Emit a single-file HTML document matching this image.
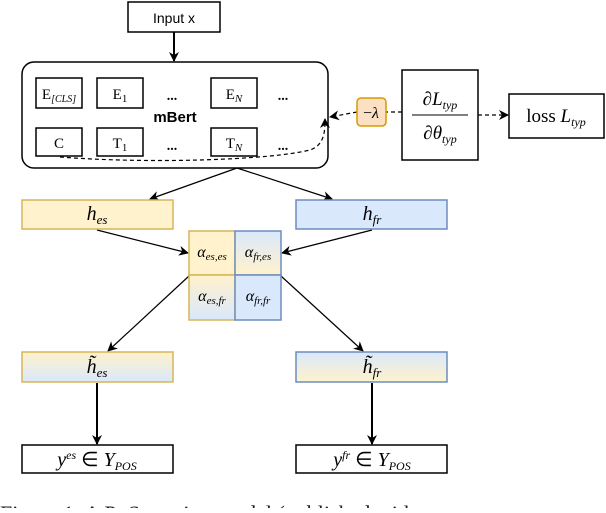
<!DOCTYPE html>
<html><head><meta charset="utf-8"><style>
body{margin:0;background:#fff;width:606px;height:508px;overflow:hidden}
text{font-family:"Liberation Serif",serif}
.s{font-family:"Liberation Sans",sans-serif}
</style></head><body>
<svg width="606" height="508" viewBox="0 0 606 508" xmlns="http://www.w3.org/2000/svg">
<defs>
<marker id="a" markerWidth="10" markerHeight="10" refX="9" refY="5" orient="auto" markerUnits="userSpaceOnUse"><path d="M0,0 L10,5 L0,10 L3,5 z" fill="#000"/></marker>
<linearGradient id="gy" x1="0" y1="0" x2="0" y2="1"><stop offset="0" stop-color="#fff2cc"/><stop offset="1" stop-color="#dae8fc"/></linearGradient>
<linearGradient id="gb" x1="0" y1="0" x2="0" y2="1"><stop offset="0" stop-color="#dae8fc"/><stop offset="1" stop-color="#fff2cc"/></linearGradient>
</defs>
<g stroke="#000" stroke-width="1.5" fill="none">
<rect x="128" y="2" width="92" height="30" fill="#fff"/>
<rect x="22" y="62" width="306" height="106" rx="12"/>
<rect x="36" y="78" width="46" height="30"/><rect x="97" y="78" width="46" height="30"/><rect x="211" y="78" width="46" height="30"/>
<rect x="36" y="128" width="46" height="28"/><rect x="97" y="128" width="46" height="28"/><rect x="211" y="128" width="46" height="28"/>
<rect x="402" y="70" width="76" height="90"/>
<rect x="509" y="94" width="95" height="44"/>
<rect x="22" y="445" width="151" height="28"/><rect x="296" y="445" width="151" height="28"/>
</g>
<line x1="174" y1="32" x2="174" y2="61" stroke="#000" stroke-width="2" marker-end="url(#a)"/>
<g stroke="#000" stroke-width="1.2" stroke-dasharray="4,3" fill="none">
<line x1="402" y1="112" x2="386" y2="112"/>
<line x1="357" y1="112" x2="330" y2="117" marker-end="url(#a)"/>
<line x1="478" y1="115" x2="508" y2="115" marker-end="url(#a)"/>
<path d="M60,157 C150,164 270,160 310,150 C325,145 325,130 325,119" marker-end="url(#a)"/>
</g>
<rect x="357" y="98" width="29" height="28" rx="4" fill="#fbe0c3" stroke="#d79b00" stroke-width="1.5"/>
<g stroke="#000" stroke-width="1.2" fill="none">
<line x1="237" y1="168" x2="150" y2="199" marker-end="url(#a)"/>
<line x1="237" y1="168" x2="332" y2="199" marker-end="url(#a)"/>
<line x1="97" y1="230" x2="188" y2="253" marker-end="url(#a)"/>
<line x1="372" y1="230" x2="282" y2="253" marker-end="url(#a)"/>
<line x1="189" y1="276" x2="108" y2="351" marker-end="url(#a)"/>
<line x1="281" y1="276" x2="363" y2="351" marker-end="url(#a)"/>
</g>
<g stroke="#000" stroke-width="2"><line x1="97" y1="383" x2="97" y2="444" marker-end="url(#a)"/><line x1="372" y1="383" x2="372" y2="444" marker-end="url(#a)"/></g>
<rect x="22" y="200" width="151" height="29" fill="#fff2cc" stroke="#d6b656" stroke-width="1.5"/>
<rect x="296" y="200" width="151" height="29" fill="#dae8fc" stroke="#6c8ebf" stroke-width="1.5"/>
<rect x="189" y="231" width="46" height="44" fill="#fff2cc" stroke="#d6b656" stroke-width="1.5"/>
<rect x="189" y="275" width="46" height="45" fill="url(#gy)" stroke="#d6b656" stroke-width="1.5"/>
<rect x="235" y="231" width="46" height="44" fill="url(#gb)" stroke="#6c8ebf" stroke-width="1.5"/>
<rect x="235" y="275" width="46" height="45" fill="#dae8fc" stroke="#6c8ebf" stroke-width="1.5"/>
<rect x="22" y="352" width="151" height="30" fill="url(#gy)" stroke="#d6b656" stroke-width="1.5"/>
<rect x="296" y="352" width="151" height="30" fill="url(#gb)" stroke="#6c8ebf" stroke-width="1.5"/>
<text x="174" y="23" class="s" font-size="14" text-anchor="middle">Input x</text>
<text x="175" y="122" class="s" font-size="15" font-weight="bold" text-anchor="middle">mBert</text>
<text x="59" y="99" font-size="15" text-anchor="middle">E<tspan font-size="10" font-style="italic" dy="3">[CLS]</tspan></text>
<text x="120" y="99" font-size="15" text-anchor="middle">E<tspan font-size="11" dy="3">1</tspan></text>
<text x="234" y="99" font-size="15" text-anchor="middle">E<tspan font-size="11" font-style="italic" dy="3">N</tspan></text>
<text x="59" y="148" font-size="15" text-anchor="middle">C</text>
<text x="120" y="148" font-size="15" text-anchor="middle">T<tspan font-size="11" dy="3">1</tspan></text>
<text x="234" y="148" font-size="15" text-anchor="middle">T<tspan font-size="11" font-style="italic" dy="3">N</tspan></text>
<g class="s" font-size="14" font-weight="bold" text-anchor="middle"><text x="172" y="100">...</text><text x="283" y="100">...</text><text x="172" y="150">...</text><text x="283" y="150">...</text></g>
<text x="371" y="118" font-size="16" text-anchor="middle">−<tspan font-style="italic">λ</tspan></text>
<text x="440" y="105" font-size="19" text-anchor="middle">∂<tspan font-style="italic">L</tspan><tspan font-size="12" font-style="italic" dy="4">typ</tspan></text>
<line x1="412" y1="115" x2="468" y2="115" stroke="#000" stroke-width="1"/>
<text x="440" y="139" font-size="19" text-anchor="middle">∂<tspan font-style="italic">θ</tspan><tspan font-size="12" font-style="italic" dy="4">typ</tspan></text>
<text x="556" y="122" font-size="19" text-anchor="middle">loss <tspan font-style="italic">L</tspan><tspan font-size="12" font-style="italic" dy="4">typ</tspan></text>
<g font-style="italic">
<text x="97" y="220" font-size="20" text-anchor="middle">h<tspan font-size="13" dy="4">es</tspan></text>
<text x="372" y="220" font-size="20" text-anchor="middle">h<tspan font-size="13" dy="4">fr</tspan></text>
<text x="97" y="373" font-size="20" text-anchor="middle">h̃<tspan font-size="13" dy="4">es</tspan></text>
<text x="372" y="373" font-size="20" text-anchor="middle">h̃<tspan font-size="13" dy="4">fr</tspan></text>
<text x="212" y="257" font-size="16" text-anchor="middle">α<tspan font-size="11" dy="3">es,es</tspan></text>
<text x="258" y="257" font-size="16" text-anchor="middle">α<tspan font-size="11" dy="3">fr,es</tspan></text>
<text x="212" y="301" font-size="16" text-anchor="middle">α<tspan font-size="11" dy="3">es,fr</tspan></text>
<text x="258" y="301" font-size="16" text-anchor="middle">α<tspan font-size="11" dy="3">fr,fr</tspan></text>
</g>
<text x="97" y="466" font-size="20" text-anchor="middle"><tspan font-style="italic">y</tspan><tspan font-size="12" font-style="italic" dy="-7">es</tspan><tspan dy="7"> ∈ </tspan><tspan font-style="italic">Y</tspan><tspan font-size="12" font-style="italic" dy="4">POS</tspan></text>
<text x="372" y="466" font-size="20" text-anchor="middle"><tspan font-style="italic">y</tspan><tspan font-size="12" font-style="italic" dy="-7">fr</tspan><tspan dy="7"> ∈ </tspan><tspan font-style="italic">Y</tspan><tspan font-size="12" font-style="italic" dy="4">POS</tspan></text>
<text x="0" y="521" font-size="22" fill="#222">Figure 1: A PoS tagging model (published with</text>
</svg>
</body></html>
